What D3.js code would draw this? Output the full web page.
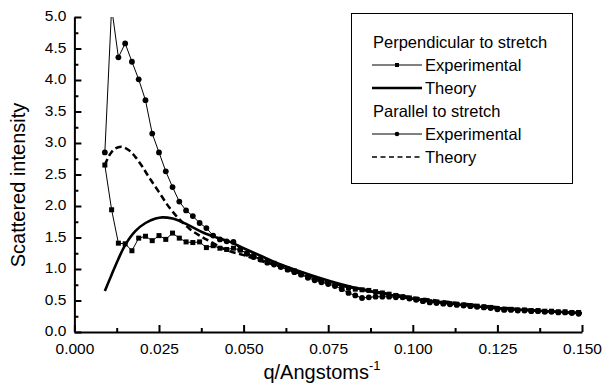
<!DOCTYPE html>
<html>
<head>
<meta charset="utf-8">
<script src="https://cdn.jsdelivr.net/npm/d3@7"></script>
<style>
  html, body { margin: 0; padding: 0; background: #fff; }
  svg { display: block; font-family: Arial, "Liberation Sans", Helvetica, sans-serif; }
</style>
</head>
<body>
<svg id="chart" width="605" height="384"></svg>
<script>
// Scattering vector q (1/Angstrom) shared by both measured series
const qExp = [0.009,0.011,0.013,0.015,0.017,0.019,0.021,0.023,0.025,0.027,0.029,0.031,0.033,0.035,0.037,0.039,
  0.041,0.043,0.045,0.047,0.049,0.051,0.053,0.055,0.057,0.059,0.061,0.063,0.065,0.067,0.069,0.071,0.073,0.075,
  0.077,0.079,0.081,0.083,0.085,0.087,0.089,0.091,0.093,0.095,0.097,0.099,0.101,0.103,0.105,0.107,0.109,0.111,
  0.113,0.115,0.117,0.119,0.121,0.123,0.125,0.127,0.129,0.131,0.133,0.135,0.137,0.139,0.141,0.143,0.145,0.147,0.149];

// Perpendicular to stretch, experimental
const perpExp = [2.65,1.94,1.41,1.40,1.29,1.49,1.52,1.45,1.53,1.47,1.57,1.49,1.43,1.42,1.43,1.34,
  1.37,1.33,1.31,1.33,1.30,1.25,1.21,1.16,1.12,1.09,1.04,1.00,0.97,0.92,0.88,0.84,0.80,0.78,
  0.75,0.72,0.70,0.68,0.67,0.66,0.64,0.62,0.60,0.58,0.56,0.54,0.52,0.50,0.48,0.47,0.46,0.45,
  0.44,0.43,0.42,0.41,0.40,0.39,0.37,0.36,0.36,0.35,0.35,0.34,0.34,0.33,0.33,0.32,0.32,0.31,0.31];

// Parallel to stretch, experimental
const parExp = [2.85,5.15,4.36,4.58,4.29,4.01,3.68,3.15,2.85,2.55,2.30,2.07,1.93,1.84,1.73,1.65,
  1.53,1.47,1.44,1.43,1.31,1.24,1.19,1.15,1.10,1.07,1.03,0.99,0.95,0.91,0.86,0.82,0.79,0.76,
  0.73,0.68,0.62,0.58,0.54,0.55,0.56,0.56,0.56,0.55,0.55,0.53,0.51,0.49,0.47,0.46,0.45,0.44,
  0.43,0.42,0.41,0.40,0.39,0.38,0.36,0.35,0.35,0.34,0.34,0.33,0.33,0.32,0.32,0.31,0.31,0.30,0.29];

// Theory curves
const perpTheoryQ = [0.009,0.011,0.013,0.015,0.018,0.021,0.024,0.026,0.029,0.032,0.035,0.038,0.042,0.046,0.050,
  0.055,0.060,0.070,0.080,0.090,0.100,0.110,0.120,0.130,0.140,0.150];
const perpTheory = [0.65,0.91,1.16,1.38,1.60,1.73,1.80,1.82,1.80,1.74,1.66,1.58,1.50,1.43,1.33,
  1.21,1.09,0.90,0.74,0.62,0.53,0.46,0.40,0.36,0.33,0.30];

const parTheoryQ = [0.009,0.0105,0.012,0.014,0.016,0.018,0.020,0.022,0.025,0.028,0.031,0.034,0.037,0.040,0.045,
  0.050,0.055,0.060,0.070,0.080,0.090,0.100,0.110,0.120,0.130,0.140,0.150];
const parTheory = [2.65,2.82,2.91,2.94,2.89,2.78,2.63,2.46,2.22,1.98,1.79,1.64,1.53,1.44,1.30,
  1.22,1.13,1.05,0.87,0.73,0.63,0.55,0.48,0.42,0.37,0.33,0.30];

// Axis ticks
const xMajor = [0, 0.025, 0.05, 0.075, 0.1, 0.125, 0.15];
const xMinor = [0.0125, 0.0375, 0.0625, 0.0875, 0.1125, 0.1375];
const yMajor = [0, 0.5, 1, 1.5, 2, 2.5, 3, 3.5, 4, 4.5, 5];
const yMinor = [0.25, 0.75, 1.25, 1.75, 2.25, 2.75, 3.25, 3.75, 4.25, 4.75];

// Legend entries
const legendRows = [
  { label: "Perpendicular to stretch", kind: "header" },
  { label: "Experimental", kind: "square" },
  { label: "Theory", kind: "solid" },
  { label: "Parallel to stretch", kind: "header" },
  { label: "Experimental", kind: "circle" },
  { label: "Theory", kind: "dashed" }
];

const svg = d3.select("#chart");
const plot = { left: 74.4, right: 582, top: 17, bottom: 332 };

const x = d3.scaleLinear().domain([0, 0.15]).range([plot.left, plot.right]);
const y = d3.scaleLinear().domain([0, 5]).range([plot.bottom, plot.top]);

svg.append("defs").append("clipPath").attr("id", "plotClip")
  .append("rect")
  .attr("x", plot.left).attr("y", plot.top)
  .attr("width", plot.right - plot.left + 4)
  .attr("height", plot.bottom - plot.top + 4);

const data = svg.append("g").attr("clip-path", "url(#plotClip)");

const expLine = d3.line().x(d => x(d[0])).y(d => y(d[1]));
const smooth = d3.line().x(d => x(d[0])).y(d => y(d[1])).curve(d3.curveCatmullRom.alpha(0.5));

const perpPts = qExp.map((q, i) => [q, perpExp[i]]);
const parPts = qExp.map((q, i) => [q, parExp[i]]);

// Theory lines
data.append("path").datum(perpTheoryQ.map((q, i) => [q, perpTheory[i]]))
  .attr("d", smooth).attr("fill", "none").attr("stroke", "#000").attr("stroke-width", 2.6);
data.append("path").datum(parTheoryQ.map((q, i) => [q, parTheory[i]]))
  .attr("d", smooth).attr("fill", "none").attr("stroke", "#000").attr("stroke-width", 2.5)
  .attr("stroke-dasharray", "6.5,3.5");

// Experimental lines + markers
data.append("path").datum(perpPts).attr("d", expLine)
  .attr("fill", "none").attr("stroke", "#000").attr("stroke-width", 1);
data.append("path").datum(parPts).attr("d", expLine)
  .attr("fill", "none").attr("stroke", "#000").attr("stroke-width", 1);

const sq = 5;
data.selectAll("rect.sq").data(perpPts).join("rect").attr("class", "sq")
  .attr("x", d => x(d[0]) - sq / 2).attr("y", d => y(d[1]) - sq / 2)
  .attr("width", sq).attr("height", sq).attr("fill", "#000");
data.selectAll("circle.ci").data(parPts).join("circle").attr("class", "ci")
  .attr("cx", d => x(d[0])).attr("cy", d => y(d[1])).attr("r", 2.9).attr("fill", "#000");

// Axes (ticks point into the plot)
const fmtX = d3.format(".3f"), fmtY = d3.format(".1f");

svg.append("g").attr("transform", `translate(0,${plot.bottom})`)
  .call(d3.axisBottom(x).tickValues(xMajor).tickFormat(fmtX).tickSizeInner(-7).tickSizeOuter(0).tickPadding(10.5));
svg.append("g").attr("transform", `translate(0,${plot.bottom})`)
  .call(d3.axisBottom(x).tickValues(xMinor).tickFormat("").tickSizeInner(-4).tickSizeOuter(0))
  .call(g => g.select(".domain").remove());

const yAxisG = svg.append("g").attr("transform", `translate(${plot.left},0)`)
  .call(d3.axisLeft(y).tickValues(yMajor).tickFormat(fmtY).tickSizeInner(-7).tickSizeOuter(0).tickPadding(8));
svg.append("g").attr("transform", `translate(${plot.left},0)`)
  .call(d3.axisLeft(y).tickValues(yMinor).tickFormat("").tickSizeInner(-4).tickSizeOuter(0))
  .call(g => g.select(".domain").remove());
yAxisG.selectAll(".tick text").attr("dy", "0.25em");

svg.selectAll(".domain").attr("stroke", "#000").attr("stroke-width", 2);
svg.selectAll(".tick line").attr("stroke", "#000").attr("stroke-width", 2);
svg.selectAll(".tick text").attr("fill", "#000").attr("font-size", 15.5)
  .attr("font-family", "Arial, 'Liberation Sans', sans-serif");

// Axis titles
const xt = svg.append("text").attr("x", 322).attr("y", 379).attr("text-anchor", "middle")
  .attr("font-size", 20).attr("fill", "#000");
xt.append("tspan").text("q/Angstoms");
xt.append("tspan").attr("dy", -9).attr("font-size", 13).text("-1");

svg.append("text").attr("transform", "translate(25,185) rotate(-90)")
  .attr("text-anchor", "middle").attr("font-size", 20).attr("fill", "#000")
  .text("Scattered intensity");

// Legend
const lg = svg.append("g");
lg.append("rect").attr("x", 351.5).attr("y", 13.5).attr("width", 221).attr("height", 170)
  .attr("fill", "#fff").attr("stroke", "#000").attr("stroke-width", 1);

const rowY = i => 42 + i * 23;
legendRows.forEach((r, i) => {
  const cy = rowY(i);
  const tx = r.kind === "header" ? 373 : 425;
  lg.append("text").attr("x", tx).attr("y", cy).attr("dy", "0.36em")
    .attr("font-size", 16.5).attr("fill", "#000").text(r.label);
  if (r.kind === "header") return;
  const l = lg.append("line").attr("x1", 372).attr("x2", 422).attr("y1", cy).attr("y2", cy)
    .attr("stroke", "#000");
  if (r.kind === "square" || r.kind === "circle") l.attr("stroke-width", 1);
  if (r.kind === "solid") l.attr("stroke-width", 2.4);
  if (r.kind === "dashed") l.attr("stroke-width", 1.7).attr("stroke-dasharray", "5,3.5");
  if (r.kind === "square") lg.append("rect").attr("x", 395).attr("y", cy - 2).attr("width", 4).attr("height", 4).attr("fill", "#000");
  if (r.kind === "circle") lg.append("circle").attr("cx", 397).attr("cy", cy).attr("r", 2.3).attr("fill", "#000");
});
</script>
</body>
</html>
